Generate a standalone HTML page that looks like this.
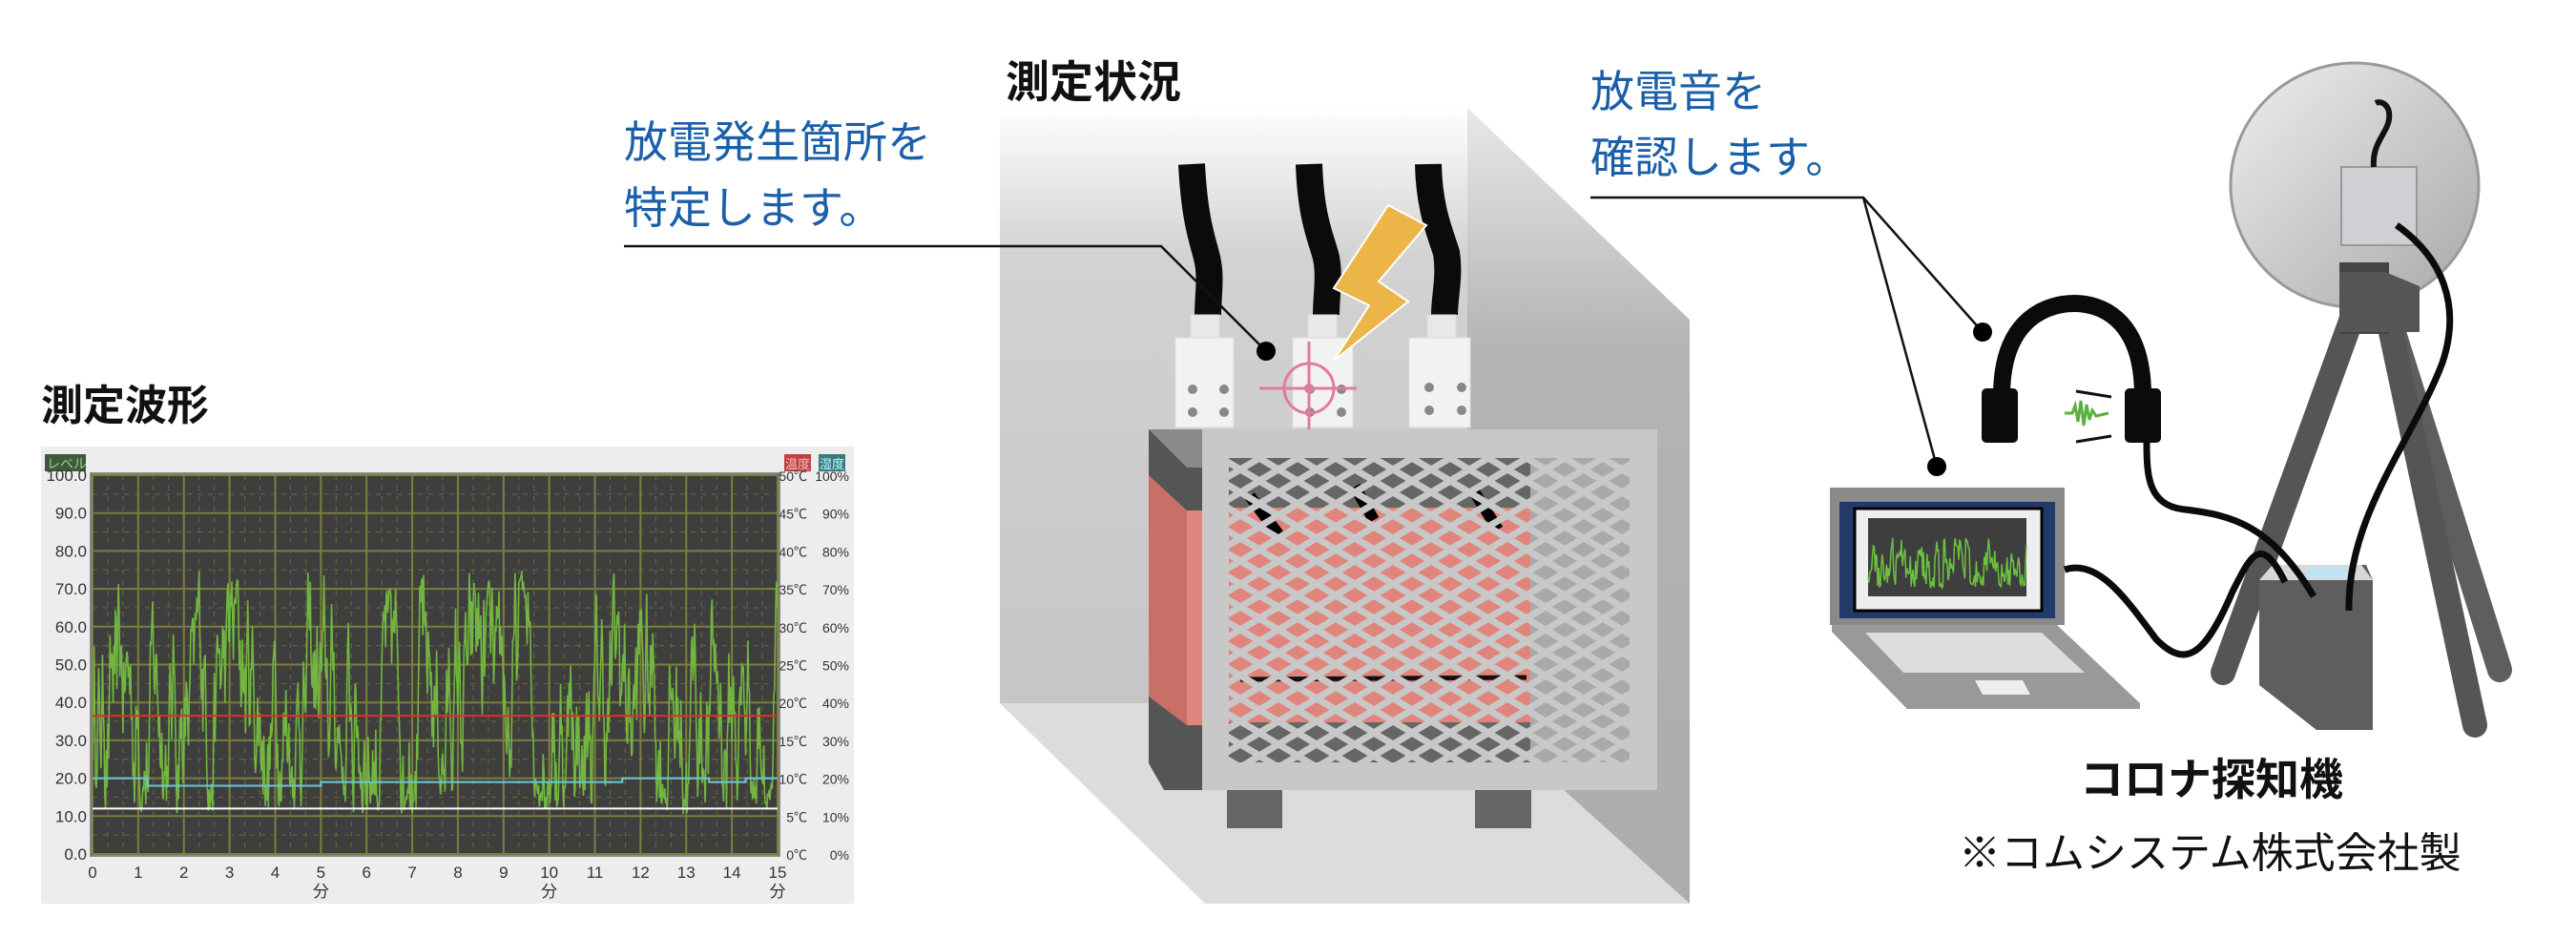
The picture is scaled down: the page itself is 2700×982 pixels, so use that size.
<!DOCTYPE html>
<html><head><meta charset="utf-8"><style>
html,body{margin:0;padding:0;background:#fff;}
svg{display:block}
text{font-family:"Liberation Sans","Noto Sans CJK JP",sans-serif}
</style></head><body>
<svg id="s" width="2700" height="982" viewBox="0 0 2700 982" xmlns="http://www.w3.org/2000/svg">
<defs>
<linearGradient id="wall" x1="0" y1="0" x2="0" y2="1"><stop offset="0" stop-color="#fff"/><stop offset="0.25" stop-color="#d2d2d2"/><stop offset="1" stop-color="#c6c6c6"/></linearGradient>
<linearGradient id="rwall" x1="0" y1="0" x2="0" y2="1"><stop offset="0" stop-color="#e8e8e8"/><stop offset="0.3" stop-color="#b4b4b4"/><stop offset="1" stop-color="#acacac"/></linearGradient>
<linearGradient id="dish" x1="0" y1="0" x2="1" y2="1"><stop offset="0" stop-color="#eeeeee"/><stop offset="1" stop-color="#a8a8a8"/></linearGradient>
<pattern id="mesh" width="40" height="24" patternUnits="userSpaceOnUse">
<path d="M-2,-1 L42,25 M-2,23 L2,25 M38,-1 L42,1 M42,-1 L-2,25 M-2,1 L2,-1 M38,25 L42,23" stroke="#c8c8c8" stroke-width="7" fill="none"/>
</pattern>
<clipPath id="plotclip"><rect x="97" y="498" width="718" height="397"/></clipPath>
</defs>

<!-- LEFT: chart -->
<text x="43" y="440" font-size="44" font-weight="bold" fill="#111">測定波形</text>
<rect x="43" y="468" width="852" height="479" fill="#ededed"/>
<rect x="47" y="476" width="43" height="18" fill="#3d5a3a"/>
<text x="49" y="491" font-size="14" fill="#9c9">レベル</text>
<rect x="822" y="476" width="28" height="18" fill="#b44"/>
<text x="823" y="491" font-size="13" fill="#fbb">温度</text>
<rect x="858" y="476" width="28" height="18" fill="#3a7a80"/>
<text x="859" y="491" font-size="13" fill="#bff">湿度</text>
<rect x="95" y="496" width="722" height="401" fill="#3e3e3e" stroke="#888" stroke-width="2"/>
<g id="grid"></g>
<g id="labels" font-size="17" fill="#333"></g>
<g id="trace" clip-path="url(#plotclip)"></g>

<!-- MIDDLE: scene -->
<text x="1054" y="102" font-size="46" font-weight="bold" fill="#111">測定状況</text>
<rect x="1048" y="113" width="490" height="624" fill="url(#wall)"/>
<polygon points="1538,113 1771,335 1771,947 1538,737" fill="url(#rwall)"/>
<polygon points="1048,737 1538,737 1771,947 1263,947" fill="#dcdcdc"/>
<g stroke="#0b0b0b" stroke-width="28" fill="none" stroke-linecap="butt">
<path d="M1249,172 C1252,230 1260,250 1265,270 C1270,290 1266,310 1266,330"/>
<path d="M1372,172 C1374,230 1385,250 1390,270 C1394,290 1390,310 1390,330"/>
<path d="M1497,172 C1498,220 1510,245 1516,265 C1520,290 1514,310 1514,330"/>
</g>
<g fill="#f2f2f2" stroke="#ddd" stroke-width="1">
<rect x="1248" y="330" width="30" height="28" fill="#e8e8e8"/>
<rect x="1232" y="354" width="61" height="94"/>
<rect x="1371" y="330" width="30" height="28" fill="#e8e8e8"/>
<rect x="1355" y="354" width="63" height="94"/>
<rect x="1496" y="330" width="30" height="28" fill="#e8e8e8"/>
<rect x="1477" y="354" width="64" height="94"/>
</g>
<g fill="#888">
<circle cx="1250" cy="408" r="5"/><circle cx="1283" cy="408" r="5"/><circle cx="1250" cy="432" r="5"/><circle cx="1283" cy="432" r="5"/>
<circle cx="1373" cy="408" r="5"/><circle cx="1406" cy="408" r="5"/><circle cx="1373" cy="432" r="5"/><circle cx="1406" cy="432" r="5"/>
<circle cx="1498" cy="406" r="5"/><circle cx="1532" cy="406" r="5"/><circle cx="1498" cy="430" r="5"/><circle cx="1532" cy="430" r="5"/>
</g>
<polygon points="1455,215 1495,236 1445,295 1476,316 1398,378 1435,320 1398,302" fill="#ecb548" stroke="#fff" stroke-width="2"/>
<g stroke="#e07aa0" stroke-width="3" fill="none">
<circle cx="1372" cy="407" r="26"/>
<line x1="1320" y1="407" x2="1422" y2="407"/>
<line x1="1372" y1="358" x2="1372" y2="458"/>
</g>
<circle cx="1372" cy="407" r="5" fill="#e07aa0"/>
<polygon points="1204,450 1260,450 1260,828 1220,828 1204,800" fill="#555"/>
<polygon points="1204,450 1260,450 1260,490 1244,490" fill="#8a8a8a"/>
<polygon points="1204,498 1244,535 1260,535 1260,760 1244,760 1204,730" fill="#c87068"/>
<rect x="1244" y="535" width="16" height="225" fill="#e0857c"/>
<rect x="1286" y="828" width="58" height="40" fill="#666"/>
<rect x="1546" y="828" width="59" height="40" fill="#666"/>
<rect x="1260" y="450" width="477" height="378" fill="#c8c8c8"/>
<rect x="1288" y="480" width="420" height="319" fill="#a9a9a9"/>
<rect x="1288" y="480" width="316" height="319" fill="#666"/>
<rect x="1288" y="532" width="316" height="225" fill="#e0857c"/>
<path d="M1310,520 L1340,560 M1420,510 L1440,545 M1545,515 L1570,555" stroke="#000" stroke-width="12"/>
<path d="M1300,712 L1600,710" stroke="#111" stroke-width="5"/>
<rect x="1288" y="480" width="420" height="319" fill="url(#mesh)"/>
<text x="654" y="165" font-size="46" fill="#1a5fa8">放電発生箇所を</text>
<text x="654" y="234" font-size="46" fill="#1a5fa8">特定します。</text>
<polyline points="654,258 1217,258 1327,368" fill="none" stroke="#111" stroke-width="2.5"/>
<circle cx="1327" cy="368" r="10" fill="#000"/>

<!-- RIGHT -->
<text x="1667" y="112" font-size="46" fill="#1a5fa8">放電音を</text>
<text x="1667" y="181" font-size="46" fill="#1a5fa8">確認します。</text>
<polyline points="1667,207 1953,207 2078,348" fill="none" stroke="#111" stroke-width="2.5"/>
<line x1="1953" y1="207" x2="2030" y2="489" stroke="#111" stroke-width="2.5"/>
<circle cx="2078" cy="348" r="10" fill="#000"/>
<circle cx="2030" cy="489" r="10" fill="#000"/>
<g stroke="#555" stroke-width="26" stroke-linecap="round">
<line x1="2500" y1="320" x2="2620" y2="702" stroke="#5e5e5e"/>
<line x1="2470" y1="320" x2="2330" y2="705"/>
<line x1="2500" y1="320" x2="2594" y2="760"/>
</g>
<ellipse cx="2468" cy="194" rx="130" ry="128" fill="url(#dish)" stroke="#999" stroke-width="3"/>
<rect x="2452" y="275" width="52" height="75" fill="#444"/>
<polygon points="2452,285 2500,285 2536,300 2536,348 2452,348" fill="#555"/>
<rect x="2454" y="175" width="79" height="82" fill="#cfcfd4" stroke="#999" stroke-width="2"/>
<path d="M2488,175 C2486,150 2502,140 2504,125 C2506,110 2496,105 2490,108" stroke="#111" stroke-width="6" fill="none"/>
<path d="M2098,415 C2098,330 2150,318 2174,318 C2198,318 2246,330 2246,415" fill="none" stroke="#0b0b0b" stroke-width="18"/>
<rect x="2077" y="407" width="38" height="57" rx="5" fill="#0b0b0b"/>
<rect x="2227" y="407" width="38" height="57" rx="5" fill="#0b0b0b"/>
<polyline points="2164,433 2172,433 2175,425 2178,442 2181,420 2184,446 2187,424 2190,440 2193,430 2197,436 2210,433" fill="none" stroke="#5cb040" stroke-width="3"/>
<line x1="2176" y1="410" x2="2213" y2="416" stroke="#111" stroke-width="3"/>
<line x1="2176" y1="463" x2="2213" y2="457" stroke="#111" stroke-width="3"/>
<rect x="1918" y="511" width="246" height="144" fill="#8a8a8a"/>
<rect x="1928" y="526" width="226" height="122" fill="#223a6a"/>
<rect x="1944" y="533" width="196" height="107" fill="#eee" stroke="#000" stroke-width="3"/>
<rect x="1958" y="543" width="166" height="82" fill="#3e3e3e"/>
<polyline id="mini" fill="none" stroke="#6cc040" stroke-width="1.5"/>
<polygon points="1920,655 2156,655 2243,737 2243,743 1999,743 1920,662" fill="#999"/>
<polygon points="1955,663 2140,663 2185,705 1995,705" fill="#ddd"/>
<polygon points="2070,713 2120,713 2128,728 2078,728" fill="#eee"/>
<polygon points="2368,608 2382,592 2480,592 2487,608 2487,765 2428,765 2368,718" fill="#5e5e5e"/>
<polygon points="2368,608 2382,592 2475,592 2487,608" fill="#d8d8d8"/>
<rect x="2417" y="594" width="50" height="12" fill="#bfe3f0"/>
<g fill="none" stroke="#0b0b0b" stroke-width="7">
<path d="M2250,464 C2250,500 2252,530 2290,534 C2340,540 2380,550 2425,625"/>
<path d="M2164,597 C2200,585 2230,630 2260,670 C2290,700 2310,690 2340,620 C2360,580 2370,560 2395,610"/>
<path d="M2512,236 C2560,270 2580,320 2560,380 C2530,460 2460,540 2462,640"/>
</g>
<text x="2180" y="833" font-size="46" font-weight="bold" fill="#111">コロナ探知機</text>
<text x="2053" y="909" font-size="44" fill="#111">※コムシステム株式会社製</text>
</svg>
<script>
(function(){
var NS="http://www.w3.org/2000/svg";
function el(t,a,p){var e=document.createElementNS(NS,t);for(var k in a)e.setAttribute(k,a[k]);p.appendChild(e);return e;}
var X0=97,W=718,Y0=895,H=397;
function X(t){return X0+t*W/15;}function Y(v){return Y0-v*H/100;}
var g=document.getElementById('grid'),lb=document.getElementById('labels'),tr=document.getElementById('trace');
for(var i=0;i<=20;i++){var y=Y(i*5);el('line',{x1:X0,x2:X0+W,y1:y,y2:y,stroke:i%2?'#6a6a3a':'#7d7d3e','stroke-width':i%2?1:2,'stroke-dasharray':i%2?'5,6':''},g);}
for(var i=0;i<=45;i++){var x=X(i/3);el('line',{x1:x,x2:x,y1:Y0-H,y2:Y0,stroke:i%3?'#6a6a3a':'#7d7d3e','stroke-width':i%3?1:2,'stroke-dasharray':i%3?'5,6':''},g);}
for(var i=0;i<=10;i++){var y=Y(i*10)+6;
 var t=el('text',{x:91,y:y,'text-anchor':'end'},lb);t.textContent=(i*10).toFixed(1);
 t=el('text',{x:846,y:y,'text-anchor':'end','font-size':14},lb);t.textContent=(i*5)+'℃';
 t=el('text',{x:890,y:y,'text-anchor':'end','font-size':14},lb);t.textContent=(i*10)+'%';}
for(var i=0;i<=15;i++){var t=el('text',{x:X(i),y:920,'text-anchor':'middle'},lb);t.textContent=i;}
[5,10,15].forEach(function(i){var t=el('text',{x:X(i),y:940,'text-anchor':'middle'},lb);t.textContent='分';});
var s=12345;function r(){s=(s*16807)%2147483647;return s/2147483647;}
var pts=[],mp=[],v=40;
for(var i=0;i<=900;i++){var t=i/60;v+= (r()-0.5)*40; if(v<8)v=8+r()*10; if(v>78)v=78-r()*15; v+=(38-v)*0.08;
 pts.push(X(t).toFixed(1)+','+Y(v).toFixed(1));
 if(i%5==0)mp.push((1958+t*166/15).toFixed(1)+','+(625-v*0.82).toFixed(1));}
el('polyline',{points:pts.join(' '),fill:'none',stroke:'#72b540','stroke-width':1.6},tr);
el('line',{x1:X0,x2:X0+W,y1:Y(36.5),y2:Y(36.5),stroke:'#e03020','stroke-width':2},tr);
el('polyline',{points:[X(0),Y(20),X(1.2),Y(20),X(1.2),Y(18),X(5),Y(18),X(5),Y(19),X(11.6),Y(19),X(11.6),Y(20),X(13.5),Y(20),X(13.5),Y(19),X(14.3),Y(19),X(14.3),Y(20),X(15),Y(20)].join(' ').replace(/(\d) (\d)/g,'$1,$2'),fill:'none',stroke:'#6cc8d8','stroke-width':2},tr);
el('line',{x1:X0,x2:X0+W,y1:Y(12),y2:Y(12),stroke:'#fff','stroke-width':2},tr);
document.getElementById('mini').setAttribute('points',mp.join(' '));
})();
</script>
</body></html>
